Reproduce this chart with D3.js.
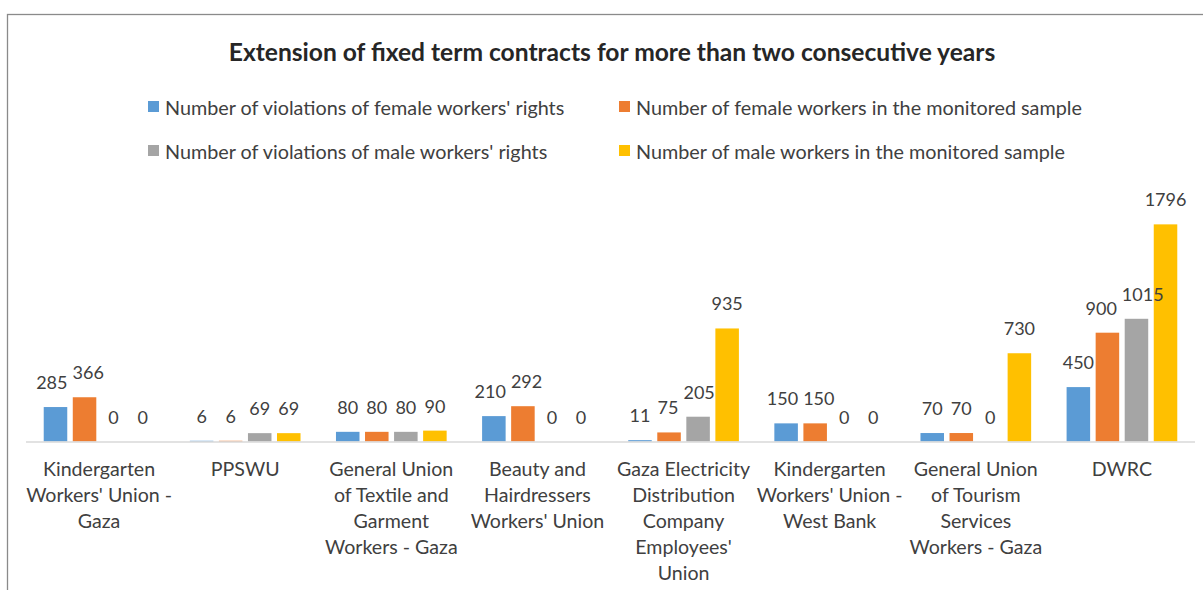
<!DOCTYPE html>
<html lang="en">
<head>
	<meta charset="utf-8">
	<title>Extension of fixed term contracts</title>
	<style type="text/css">
		body {
			margin: 0;
			background: #fff;
		}
		svg text {
			font-family: Lato, "Open Sans", sans-serif;
			fill: #404040;
		}
	</style>
</head>
<body>
	<div id="vis"></div>

	<script src="https://cdnjs.cloudflare.com/ajax/libs/d3/7.8.5/d3.min.js"></script>
	<script type="text/javascript">

		var w = 1203;
		var h = 590;

		var categories = ["Kindergarten Gaza", "PPSWU", "Textile Gaza", "Beauty",
						  "Gaza Electricity", "Kindergarten West Bank", "Tourism Gaza", "DWRC"];

		var categoryLines = [
			["Kindergarten", "Workers' Union -", "Gaza"],
			["PPSWU"],
			["General Union", "of Textile and", "Garment", "Workers - Gaza"],
			["Beauty and", "Hairdressers", "Workers' Union"],
			["Gaza Electricity", "Distribution", "Company", "Employees'", "Union"],
			["Kindergarten", "Workers' Union -", "West Bank"],
			["General Union", "of Tourism", "Services", "Workers - Gaza"],
			["DWRC"]
		];

		var seriesNames = [
			"Number of violations of female workers' rights",
			"Number of female workers in the monitored sample",
			"Number of violations of male workers' rights",
			"Number of male workers in the monitored sample"
		];
		var seriesColors = ["#5B9BD5", "#ED7D31", "#A5A5A5", "#FFC000"];

		var femaleViolations = [285, 6, 80, 210, 11, 150, 70, 450];
		var femaleWorkers    = [366, 6, 80, 292, 75, 150, 70, 900];
		var maleViolations   = [0, 69, 80, 0, 205, 0, 0, 1015];
		var maleWorkers      = [0, 69, 90, 0, 935, 0, 730, 1796];

		var seriesValues = [femaleViolations, femaleWorkers, maleViolations, maleWorkers];

		var baseY = 441.5;

		var x0 = d3.scaleBand()
					.domain(categories)
					.range([26, 1195]);

		var x1 = d3.scaleBand()
					.domain(d3.range(seriesNames.length))
					.range([0, x0.bandwidth()])
					.paddingInner(0.19)
					.paddingOuter(0.61);

		var yScale = d3.scaleLinear()
						.domain([0, 2000])
						.range([baseY, baseY - 241.8]);

		var svg = d3.select("#vis")
					.append("svg")
					.attr("width", w)
					.attr("height", h);

		//Outer frame (cut off at right and bottom)
		svg.append("rect")
			.attr("x", 7.5)
			.attr("y", 14.5)
			.attr("width", 1220)
			.attr("height", 620)
			.attr("fill", "none")
			.attr("stroke", "#8a8a8a")
			.attr("stroke-width", 1.3);

		//Title
		svg.append("text")
			.attr("x", 612)
			.attr("y", 61)
			.attr("text-anchor", "middle")
			.attr("font-size", "24.6px")
			.attr("font-weight", "bold")
			.style("fill", "#262626")
			.text("Extension of fixed term contracts for more than two consecutive years");

		//Legend
		var legendPos = [[148, 107], [619, 107], [148, 151], [619, 151]];
		var legend = svg.selectAll("g.legend")
			.data(seriesNames)
			.enter()
			.append("g")
			.attr("class", "legend")
			.attr("transform", function(d, i) {
				return "translate(" + legendPos[i][0] + "," + legendPos[i][1] + ")";
			});

		legend.append("rect")
			.attr("x", 0)
			.attr("y", -6)
			.attr("width", 11)
			.attr("height", 11)
			.attr("fill", function(d, i) { return seriesColors[i]; });

		legend.append("text")
			.attr("x", 17)
			.attr("y", 7.5)
			.attr("font-size", "19.8px")
			.text(function(d) { return d; });

		//Bars
		var groups = svg.selectAll("g.cat")
			.data(categories)
			.enter()
			.append("g")
			.attr("class", "cat")
			.attr("transform", function(d) {
				return "translate(" + x0(d) + ",0)";
			});

		groups.selectAll("rect")
			.data(function(d, ci) {
				return seriesValues.map(function(vals, si) {
					return { s: si, v: vals[ci] };
				});
			})
			.enter()
			.append("rect")
			.attr("x", function(d) { return x1(d.s); })
			.attr("y", function(d) { return yScale(d.v); })
			.attr("width", x1.bandwidth())
			.attr("height", function(d) { return baseY - yScale(d.v); })
			.attr("fill", function(d) { return seriesColors[d.s]; });

		//Axis line
		svg.append("line")
			.attr("x1", x0.range()[0])
			.attr("x2", x0.range()[1])
			.attr("y1", baseY + 0.5)
			.attr("y2", baseY + 0.5)
			.attr("stroke", "#d9d9d9")
			.attr("stroke-width", 1.5);

		//Value labels
		groups.each(function(c, ci) {
			var g = d3.select(this);
			var labels = g.selectAll("text.val")
				.data(seriesValues.map(function(vals, si) {
					return { s: si, v: vals[ci] };
				}))
				.enter()
				.append("text")
				.attr("class", "val")
				.attr("x", function(d) { return x1(d.s) + x1.bandwidth() / 2; })
				.attr("y", function(d) { return yScale(d.v) - 18; })
				.attr("text-anchor", "middle")
				.attr("font-size", "18px")
				.text(function(d) { return d.v; });

			//nudge neighbouring labels apart when they collide (like Excel does)
			var nodes = labels.nodes();
			for (var i = 0; i < nodes.length - 1; i++) {
				var a = nodes[i], b = nodes[i + 1];
				var ay = +a.getAttribute("y"), by = +b.getAttribute("y");
				if (Math.abs(ay - by) > 16) continue;
				var ax = +a.getAttribute("x"), bx = +b.getAttribute("x");
				var need = (a.getComputedTextLength() + b.getComputedTextLength()) / 2 + 5;
				var gap = bx - ax;
				if (gap < need) {
					var shift = (need - gap) / 2;
					a.setAttribute("x", ax - shift);
					b.setAttribute("x", bx + shift);
				}
			}
		});

		//Category labels
		svg.selectAll("text.cat")
			.data(categories)
			.enter()
			.append("text")
			.attr("class", "cat")
			.attr("text-anchor", "middle")
			.attr("font-size", "19.6px")
			.attr("x", function(d) { return x0(d) + x0.bandwidth() / 2; })
			.attr("y", 476)
			.each(function(d, i) {
				var t = d3.select(this);
				categoryLines[i].forEach(function(line, j) {
					t.append("tspan")
						.attr("x", x0(d) + x0.bandwidth() / 2)
						.attr("dy", j === 0 ? 0 : 26)
						.text(line);
				});
			});

	</script>
</body>
</html>
